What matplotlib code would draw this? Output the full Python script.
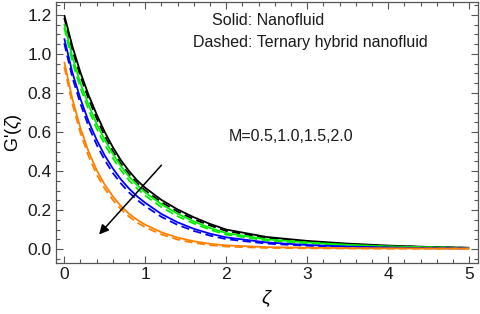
import numpy as np
import matplotlib
matplotlib.use("Agg")
from matplotlib import pyplot as plt
from matplotlib.ticker import MultipleLocator

# Data
zeta = [0.0, 0.1, 0.2, 0.3, 0.4, 0.5, 0.6, 0.7, 0.8, 0.9, 1.0,
        1.2, 1.4, 1.6, 1.8, 2.0, 2.5, 3.0, 3.5, 4.0, 4.5, 5.0]

# Solid: Nanofluid, M = 0.5, 1.0, 1.5, 2.0
nf_black = [1.20, 1.04, 0.905, 0.79, 0.69, 0.60, 0.522, 0.455, 0.40, 0.352, 0.314,
            0.252, 0.203, 0.163, 0.129, 0.100, 0.062, 0.042, 0.028, 0.018, 0.011, 0.007]
nf_green = [1.155, 0.985, 0.85, 0.74, 0.642, 0.56, 0.488, 0.425, 0.372, 0.328, 0.29,
            0.230, 0.181, 0.142, 0.108, 0.082, 0.050, 0.034, 0.022, 0.014, 0.009, 0.006]
nf_blue = [1.08, 0.905, 0.77, 0.655, 0.56, 0.48, 0.413, 0.357, 0.31, 0.27, 0.237,
           0.18, 0.137, 0.104, 0.079, 0.060, 0.034, 0.021, 0.013, 0.008, 0.005, 0.004]
nf_orange = [0.96, 0.77, 0.62, 0.50, 0.405, 0.33, 0.27, 0.22, 0.181, 0.15, 0.125,
             0.086, 0.059, 0.040, 0.027, 0.019, 0.010, 0.007, 0.005, 0.004, 0.003, 0.003]

# Dashed: Ternary hybrid nanofluid
th_black = [1.185, 1.02, 0.885, 0.77, 0.67, 0.58, 0.502, 0.437, 0.384, 0.338, 0.30,
            0.240, 0.192, 0.153, 0.121, 0.093, 0.057, 0.038, 0.025, 0.016, 0.010, 0.006]
th_green = [1.135, 0.96, 0.825, 0.715, 0.618, 0.536, 0.466, 0.404, 0.353, 0.31, 0.274,
            0.215, 0.168, 0.131, 0.099, 0.074, 0.044, 0.030, 0.019, 0.012, 0.008, 0.005]
th_blue = [1.055, 0.88, 0.745, 0.63, 0.535, 0.456, 0.39, 0.336, 0.29, 0.252, 0.22,
           0.165, 0.124, 0.093, 0.069, 0.051, 0.028, 0.017, 0.011, 0.007, 0.004, 0.003]
th_orange = [0.935, 0.745, 0.595, 0.477, 0.383, 0.31, 0.252, 0.204, 0.166, 0.136, 0.112,
             0.075, 0.049, 0.032, 0.020, 0.013, 0.006, 0.004, 0.003, 0.002, 0.002, 0.002]

colors = ["black", "#00ee00", "#0000ff", "#ff8000"]
arrow_start = (1.2, 0.43)
arrow_end = (0.43, 0.075)


def main() -> None:
    plt.rcParams["font.family"] = ["Liberation Sans", "DejaVu Sans"]
    plt.rcParams["mathtext.fontset"] = "custom"
    plt.rcParams["mathtext.it"] = "Liberation Sans:italic"
    plt.rcParams["mathtext.rm"] = "Liberation Sans"

    fig = plt.figure(figsize=(4.8, 3.14), dpi=100)
    ax = fig.add_axes([0.117, 0.162, 0.879, 0.832])

    solids = [nf_black, nf_green, nf_blue, nf_orange]
    dashes = [th_black, th_green, th_blue, th_orange]
    for c, ys, yd in zip(colors, solids, dashes):
        ax.plot(zeta, ys, color=c, lw=1.3, solid_capstyle="butt")
        ax.plot(zeta, yd, color=c, lw=1.3, dashes=(4.5, 2.5))

    ax.annotate("", xy=arrow_end, xytext=arrow_start,
                arrowprops=dict(arrowstyle="-|>", color="black", lw=1.1,
                                mutation_scale=14, shrinkA=0, shrinkB=0))

    txt = dict(transform=ax.transAxes, fontsize=11.5, ha="left", va="center",
               color="#1a1a1a")
    ax.text(0.370, 0.927, "Solid: Nanofluid", **txt)
    ax.text(0.325, 0.843, "Dashed: Ternary hybrid nanofluid", **txt)
    ax.text(0.410, 0.483, "M=0.5,1.0,1.5,2.0", **txt)

    ax.set_xlim(-0.1, 5.11)
    ax.set_ylim(-0.072, 1.267)
    ax.xaxis.set_major_locator(MultipleLocator(1))
    ax.xaxis.set_minor_locator(MultipleLocator(0.2))
    ax.yaxis.set_major_locator(MultipleLocator(0.2))
    ax.yaxis.set_minor_locator(MultipleLocator(0.05))
    ax.set_yticks(ax.get_yticks())
    ax.set_yticklabels([f"{v:.1f}" for v in ax.get_yticks()])
    ax.set_ylim(-0.072, 1.267)
    ax.tick_params(which="both", direction="in", top=True, right=True,
                   color="#555555", labelsize=12.5, labelcolor="#1a1a1a")
    ax.tick_params(which="major", length=5, width=0.8, pad=3)
    ax.tick_params(which="minor", length=3, width=0.8)
    for s in ax.spines.values():
        s.set_color("#555555")
        s.set_linewidth(0.9)

    ax.set_xlabel(r"$\zeta$", fontsize=14, labelpad=4)
    ax.set_ylabel(r"G'($\zeta$)", fontsize=13, labelpad=3)

    fig.savefig("out.png", dpi=100)


if __name__ == "__main__":
    main()
